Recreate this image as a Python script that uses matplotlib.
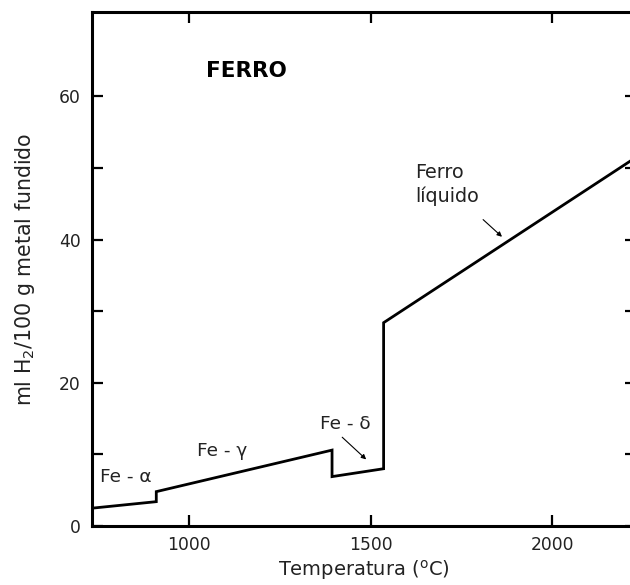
import matplotlib
matplotlib.use("Agg")
import matplotlib.pyplot as plt

temp = [735, 910, 910, 1394, 1394, 1536, 1536, 2231]
h2 = [2.5, 3.4, 4.8, 10.6, 6.9, 8.0, 28.4, 51.5]

xticks = [1000, 1500, 2000]
yticks_major = [0, 10, 20, 30, 40, 50, 60]
ytick_labels = ["0", "", "20", "", "40", "", "60"]

plt.rcParams['font.family'] = ['DejaVu Sans']

fig = plt.figure(figsize=(6.3, 5.85), dpi=100)
ax = fig.add_axes([92/630, 1-526/585, (636-92)/630, (526-12)/585])

ax.plot(temp, h2, color='black', lw=2.0, solid_joinstyle='miter')
ax.set_xlim(733, 2231)
ax.set_ylim(0, 71.8)

ax.set_xticks(xticks)
ax.set_xticklabels([str(t) for t in xticks], fontsize=12.3)
ax.set_yticks(yticks_major)
ax.set_yticklabels(ytick_labels, fontsize=12.3)
ax.tick_params(axis='both', direction='in', length=8, width=1.6, top=True, right=True, colors='black')
ax.tick_params(axis='x', pad=7)
ax.tick_params(axis='y', pad=8)
ax.tick_params(axis='both', labelcolor='#222222')
for s in ax.spines.values():
    s.set_linewidth(2.2)

ax.set_xlabel('Temperatura ($^{\\rm o}$C)', fontsize=14.0, color='#222222', labelpad=3)
ax.set_ylabel('ml H$_2$/100 g metal fundido', fontsize=14.8, color='#222222', labelpad=16)

ax.text(1157, 63.5, 'FERRO', fontsize=15.5, fontweight='bold', ha='center', va='center', color='black')
ax.text(827, 6.8, 'Fe - α', fontsize=13.3, ha='center', va='center', color='#222222')
ax.text(1091, 10.5, 'Fe - γ', fontsize=13.3, ha='center', va='center', color='#222222')
ax.text(1430, 14.3, 'Fe - δ', fontsize=13.3, ha='center', va='center', color='#222222')
ax.annotate('', xy=(1488, 9.3), xytext=(1422, 12.4),
            arrowprops=dict(arrowstyle='-|>', lw=0.8, color='black', mutation_scale=7,
                            shrinkA=0, shrinkB=0))
ax.text(1624, 47.7, 'Ferro\nlíquido', fontsize=13.8, ha='left', va='center',
        color='#222222', linespacing=1.25)
ax.annotate('', xy=(1862, 40.4), xytext=(1810, 42.8),
            arrowprops=dict(arrowstyle='-|>', lw=0.8, color='black', mutation_scale=7,
                            shrinkA=0, shrinkB=0))

fig.savefig('out.png', dpi=100)
